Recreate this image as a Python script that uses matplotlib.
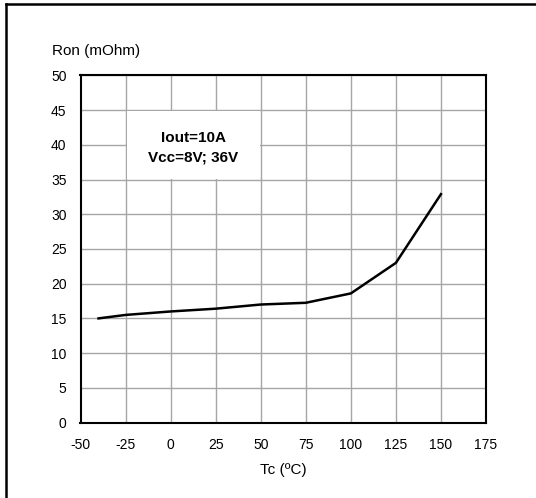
import matplotlib
matplotlib.use("Agg")
import matplotlib.pyplot as plt
from matplotlib.patches import Rectangle
from matplotlib.lines import Line2D

plt.rcParams['font.family'] = ['Liberation Sans', 'DejaVu Sans']

temps = [-40, -25, 0, 25, 50, 75, 100, 125, 150]
ron = [15.0, 15.5, 16.0, 16.4, 17.0, 17.25, 18.6, 23.0, 32.9]
xticks = [-50, -25, 0, 25, 50, 75, 100, 125, 150, 175]
yticks = [0, 5, 10, 15, 20, 25, 30, 35, 40, 45, 50]
note_lines = ["Iout=10A", "Vcc=8V; 36V"]

W, H = 536, 498
fig = plt.figure(figsize=(W / 100, H / 100), dpi=100)
ax = fig.add_axes([80.5 / W, 1 - 422.5 / H, 405.5 / W, 347 / H])

ax.set_xlim(-50, 175)
ax.set_ylim(0, 50)
ax.set_xticks(xticks)
ax.set_yticks(yticks)
ax.set_xticklabels([str(t) for t in xticks])
ax.set_yticklabels([str(t) for t in yticks])
ax.tick_params(length=0, labelsize=10, colors='black')
ax.tick_params(axis='y', pad=10)
ax.tick_params(axis='x', pad=11)
ax.grid(True, color='#a6a6a6', linewidth=1.0, zorder=0)
ax.set_axisbelow(True)
for s in ax.spines.values():
    s.set_linewidth(1.5)
    s.set_color('black')
    s.set_zorder(5)

ax.plot(temps, ron, color='black', linewidth=1.8, zorder=4)

# note box
ax.add_patch(Rectangle((-24.4, 35.15), 73.8, 9.7, facecolor='white',
                       edgecolor='none', zorder=2))
ax.text(12.5, 41.05, note_lines[0], ha='center', va='center',
        fontsize=11, fontweight='bold', zorder=3)
ax.text(12.5, 38.15, note_lines[1], ha='center', va='center',
        fontsize=11, fontweight='bold', zorder=3)

fig.text(52.5 / W, 1 - 51 / H, "Ron (mOhm)", ha='left', va='center', fontsize=11)
fig.text(283 / W, 1 - 470 / H, "Tc (ºC)", ha='center', va='center', fontsize=11)

# outer frame (left and top edges visible)
fig.add_artist(Line2D([6 / W, 6 / W], [0, 1 - 4 / H], color='black', linewidth=1.8))
fig.add_artist(Line2D([6 / W, 1], [1 - 4 / H, 1 - 4 / H], color='black', linewidth=1.8))

fig.savefig("out.png", dpi=100)
